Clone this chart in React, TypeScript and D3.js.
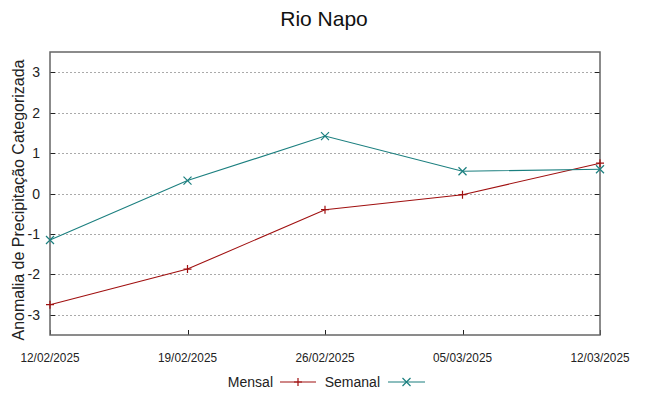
import { useEffect, useRef } from 'react';
import * as d3 from 'd3';

const dates = ['12/02/2025', '19/02/2025', '26/02/2025', '05/03/2025', '12/03/2025'];
const mensal = [-2.75, -1.87, -0.4, -0.03, 0.75];
const semanal = [-1.15, 0.32, 1.42, 0.55, 0.6];
const yTicks = [-3, -2, -1, 0, 1, 2, 3];

const W = 648;
const H = 396;

export default function App() {
  const svgRef = useRef<SVGSVGElement>(null);

  useEffect(() => {
    if (!svgRef.current) return;
    const svg = d3.select(svgRef.current);
    svg.selectAll('*').remove();

    const margin = { top: 52, right: 48, bottom: 61, left: 50 };
    const x = d3.scalePoint<string>().domain(dates).range([margin.left, W - margin.right]);
    const y = d3.scaleLinear().domain([-3.5, 3.5]).range([H - margin.bottom, margin.top]);
    const font = '"Liberation Sans", Arial, sans-serif';

    svg.append('rect').attr('width', W).attr('height', H).attr('fill', '#fff');

    // grid
    svg.selectAll('.grid')
      .data(yTicks)
      .enter().append('line')
      .attr('x1', margin.left).attr('x2', W - margin.right)
      .attr('y1', d => Math.round(y(d)) + 0.5).attr('y2', d => Math.round(y(d)) + 0.5)
      .attr('stroke', '#aaa').attr('stroke-width', 1).attr('stroke-dasharray', '2,2');

    // ticks (inside, both sides)
    yTicks.forEach(t => {
      const yy = Math.round(y(t)) + 0.5;
      svg.append('line').attr('x1', margin.left).attr('x2', margin.left + 5).attr('y1', yy).attr('y2', yy).attr('stroke', '#222');
      svg.append('line').attr('x1', W - margin.right - 5).attr('x2', W - margin.right).attr('y1', yy).attr('y2', yy).attr('stroke', '#222');
    });
    dates.forEach(d => {
      const xx = Math.round(x(d)!) + 0.5;
      svg.append('line').attr('x1', xx).attr('x2', xx).attr('y1', H - margin.bottom).attr('y2', H - margin.bottom - 5).attr('stroke', '#222');
    });

    // frame
    svg.append('rect')
      .attr('x', margin.left).attr('y', margin.top)
      .attr('width', W - margin.left - margin.right).attr('height', H - margin.top - margin.bottom)
      .attr('fill', 'none').attr('stroke', '#666').attr('stroke-width', 1.5);

    // y labels
    svg.selectAll('.ylab')
      .data(yTicks)
      .enter().append('text')
      .attr('x', 40).attr('y', d => y(d) + 5)
      .attr('text-anchor', 'end').attr('font-family', font).attr('font-size', 14).attr('fill', '#222')
      .text(d => d);

    // x labels
    svg.selectAll('.xlab')
      .data(dates)
      .enter().append('text')
      .attr('x', d => x(d)!).attr('y', 362)
      .attr('text-anchor', 'middle').attr('font-family', font).attr('font-size', 13.5)
      .attr('textLength', 59).attr('lengthAdjust', 'spacingAndGlyphs').attr('fill', '#222')
      .text(d => d);

    // title
    svg.append('text')
      .attr('x', W / 2).attr('y', 26).attr('text-anchor', 'middle')
      .attr('font-family', font).attr('font-size', 21).attr('fill', '#111')
      .text('Rio Napo');

    // y axis title
    svg.append('text')
      .attr('transform', `translate(24,200) rotate(-90)`)
      .attr('text-anchor', 'middle').attr('font-family', font).attr('font-size', 16).attr('fill', '#222')
      .text('Anomalia de Precipitação Categorizada');

    const line = d3.line<number>().x((_, i) => x(dates[i])!).y(d => y(d));

    const series = [
      { name: 'Mensal', data: mensal, color: '#a01010', marker: 'plus' },
      { name: 'Semanal', data: semanal, color: '#1b7f7f', marker: 'cross' },
    ];

    const drawMarker = (cx: number, cy: number, kind: string, color: string) => {
      const s = 4;
      if (kind === 'plus') {
        svg.append('path').attr('d', `M${cx - s},${cy}H${cx + s}M${cx},${cy - s}V${cy + s}`)
          .attr('stroke', color).attr('stroke-width', 1.2).attr('fill', 'none');
      } else {
        svg.append('path').attr('d', `M${cx - s},${cy - s}L${cx + s},${cy + s}M${cx - s},${cy + s}L${cx + s},${cy - s}`)
          .attr('stroke', color).attr('stroke-width', 1.2).attr('fill', 'none');
      }
    };

    series.forEach(s => {
      svg.append('path').datum(s.data)
        .attr('d', line).attr('fill', 'none').attr('stroke', s.color).attr('stroke-width', 1.1);
      s.data.forEach((v, i) => drawMarker(x(dates[i])!, y(v), s.marker, s.color));
    });

    // legend
    const ly = 382;
    const legend = [
      { name: 'Mensal', tx: 273, l0: 280, l1: 316, color: '#a01010', marker: 'plus' },
      { name: 'Semanal', tx: 380, l0: 388, l1: 425, color: '#1b7f7f', marker: 'cross' },
    ];
    legend.forEach(l => {
      svg.append('text').attr('x', l.tx).attr('y', ly + 5).attr('text-anchor', 'end')
        .attr('font-family', font).attr('font-size', 14).attr('fill', '#222').text(l.name);
      svg.append('line').attr('x1', l.l0).attr('x2', l.l1).attr('y1', ly).attr('y2', ly)
        .attr('stroke', l.color).attr('stroke-width', 1.2);
      drawMarker((l.l0 + l.l1) / 2, ly, l.marker, l.color);
    });
  }, []);

  return (
    <div style={{ position: 'absolute', left: 0, top: 0 }}>
      <svg ref={svgRef} width={W} height={H} style={{ display: 'block' }} />
    </div>
  );
}
